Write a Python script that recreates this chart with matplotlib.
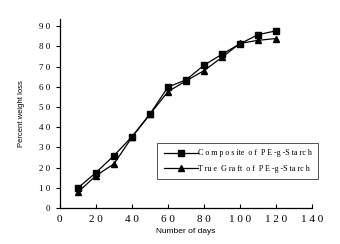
import matplotlib.pyplot as plt

days = [10, 20, 30, 40, 50, 60, 70, 80, 90, 100, 110, 120]
composite = [9.9, 17.5, 25.9, 35.3, 46.5, 59.9, 63.4, 70.7, 76.1, 81.3, 85.8, 87.7]
true_graft = [7.8, 16.0, 21.8, 35.0, 46.4, 57.6, 62.9, 68.0, 74.6, 81.5, 83.0, 83.9]
xticks = [0, 20, 40, 60, 80, 100, 120, 140]
yticks = [0, 10, 20, 30, 40, 50, 60, 70, 80, 90]

serif = 'Liberation Serif'
sans = 'Liberation Sans'

fig = plt.figure(figsize=(3.4, 2.44), dpi=100)
ax = fig.add_axes([0.176, 0.1475, 0.742, 0.775])

ax.plot(days, composite, color='black', lw=0.9, marker='s', ms=3.8,
        label='C o m p o s ite  o f  P E -g -S ta rc h')
ax.plot(days, true_graft, color='black', lw=0.9, marker='^', ms=3.8,
        label='T ru e  G ra ft  o f  P E -g -S ta rc h')

ax.set_xlim(0, 140)
ax.set_ylim(0, 93.6)
ax.set_xticks(xticks)
ax.set_yticks(yticks)
ax.set_xticklabels([' '.join(str(t)) for t in xticks], family=serif, fontsize=8)
ax.set_yticklabels([' '.join(str(t)) for t in yticks], family=serif, fontsize=6.5)
ax.tick_params(axis='x', direction='in', length=3, width=0.8, pad=5)
ax.tick_params(axis='y', direction='out', length=3, width=0.8, pad=4)
for s in ['top', 'right']:
    ax.spines[s].set_visible(False)
for s in ['left', 'bottom']:
    ax.spines[s].set_linewidth(0.9)

ax.set_xlabel('Number of days', family=sans, fontsize=6, labelpad=3)
ax.set_ylabel('Percent weight loss', family=sans, fontsize=5.5, labelpad=10)

leg = fig.legend(loc='upper right', bbox_to_anchor=(0.935, 0.414),
                 prop={'family': serif, 'size': 5.8},
                 frameon=True, fancybox=False, edgecolor='black',
                 handlelength=4.2, borderpad=0.8, labelspacing=0.9,
                 handletextpad=0.0, borderaxespad=0)
leg.get_frame().set_linewidth(0.6)

plt.savefig('out.png')
